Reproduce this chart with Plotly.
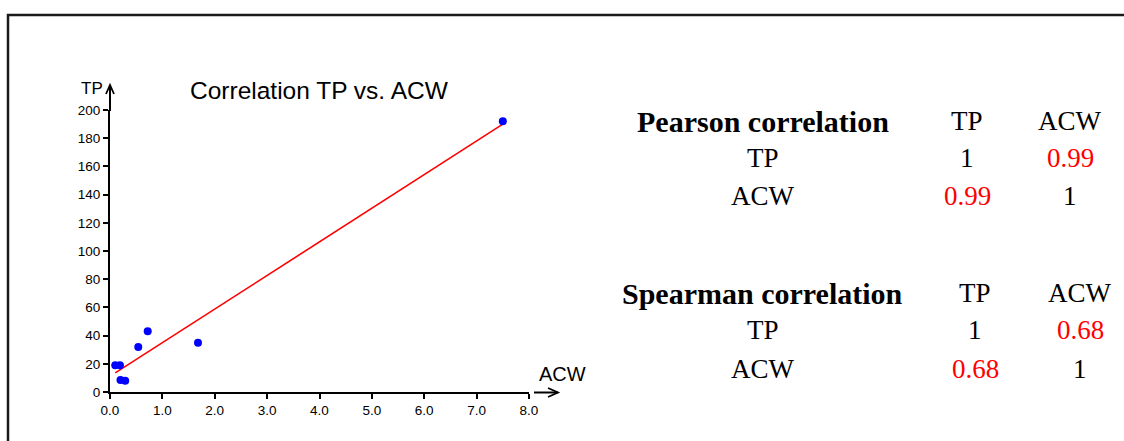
import numpy as np
import plotly.graph_objects as go

# ---- data ----
acw = [0.10, 0.19, 0.20, 0.29, 0.54, 0.72, 1.68, 7.50]
tp = [19, 19, 8.5, 8, 32, 43, 35, 192]
x_ticks = [0, 1, 2, 3, 4, 5, 6, 7, 8]
y_ticks = [0, 20, 40, 60, 80, 100, 120, 140, 160, 180, 200]

pearson_labels = ["TP", "ACW"]
pearson_matrix = [["1", "0.99"], ["0.99", "1"]]
spearman_labels = ["TP", "ACW"]
spearman_matrix = [["1", "0.68"], ["0.68", "1"]]

W, H = 1124, 441


def px(x):
    return x / W


def py(y):
    return 1 - y / H


# regression line
slope, intercept = np.polyfit(acw, tp, 1)
fit_x = [min(acw), max(acw)]
fit_y = [slope * v + intercept for v in fit_x]

fig = go.Figure()
fig.add_trace(go.Scatter(x=fit_x, y=fit_y, mode="lines",
                         line=dict(color="#ff0000", width=1.6),
                         hoverinfo="skip", showlegend=False, cliponaxis=False))
fig.add_trace(go.Scatter(x=acw, y=tp, mode="markers",
                         marker=dict(color="#0000ff", size=8, line=dict(width=0)),
                         showlegend=False, cliponaxis=False))

axis_font = dict(family="Liberation Sans, Arial, sans-serif", size=13.5, color="#000")

fig.update_layout(
    width=W, height=H,
    margin=dict(l=0, r=0, t=0, b=0, pad=0, autoexpand=False),
    paper_bgcolor="white", plot_bgcolor="white",
    xaxis=dict(domain=[px(110), px(529)], range=[0, 8], tickvals=x_ticks,
               tickformat=".1f", showgrid=False, zeroline=False,
               showline=True, linecolor="black", linewidth=2,
               ticks="outside", ticklen=5, tickwidth=2, tickcolor="black",
               tickfont=axis_font, anchor="y", automargin=False),
    yaxis=dict(domain=[py(392), py(110)], range=[0, 200], tickvals=y_ticks,
               showgrid=False, zeroline=False,
               showline=True, linecolor="black", linewidth=2,
               ticks="outside", ticklen=5, tickwidth=2, tickcolor="black",
               tickfont=axis_font, anchor="x", automargin=False),
    font=dict(family="Liberation Sans, Arial, sans-serif", color="#000"),
)

shapes = []
# frame
shapes.append(dict(type="rect", xref="paper", yref="paper",
                   x0=px(8), x1=1.02, y0=-0.02, y1=py(15),
                   line=dict(color="#1a1a1a", width=2.5), fillcolor="rgba(0,0,0,0)"))
# y axis arrow
shapes.append(dict(type="line", xref="paper", yref="paper",
                   x0=px(110), x1=px(110), y0=py(111), y1=py(85),
                   line=dict(color="black", width=2)))
shapes.append(dict(type="path", xref="paper", yref="paper",
                   path=f"M {px(106)} {py(94)} L {px(110)} {py(85)} L {px(114)} {py(94)}",
                   line=dict(color="black", width=1.8)))
# x axis arrow
shapes.append(dict(type="line", xref="paper", yref="paper",
                   x0=px(534), x1=px(558), y0=py(392.5), y1=py(392.5),
                   line=dict(color="black", width=2)))
shapes.append(dict(type="path", xref="paper", yref="paper",
                   path=f"M {px(548)} {py(388)} L {px(558)} {py(392.5)} L {px(548)} {py(397)}",
                   line=dict(color="black", width=1.8)))

ann = []
ann.append(dict(text="Correlation TP vs. ACW", x=px(319), y=py(90), xref="paper", yref="paper",
                showarrow=False, xanchor="center", yanchor="middle",
                font=dict(family="Liberation Sans, Arial, sans-serif", size=24.5, color="#000")))
ann.append(dict(text="TP", x=px(79), y=py(89), xref="paper", yref="paper",
                showarrow=False, xanchor="left", yanchor="middle",
                font=dict(family="Liberation Sans, Arial, sans-serif", size=17, color="#000")))
ann.append(dict(text="ACW", x=px(537), y=py(374), xref="paper", yref="paper",
                showarrow=False, xanchor="left", yanchor="middle",
                font=dict(family="Liberation Sans, Arial, sans-serif", size=20, color="#000")))

serif = "Liberation Serif, Times New Roman, serif"


def table(title, labels, matrix, title_x, col_x, row_y):
    ann.append(dict(text=f"<b>{title}</b>", x=px(title_x), y=py(row_y[0]),
                    xref="paper", yref="paper", showarrow=False,
                    xanchor="center", yanchor="middle",
                    font=dict(family=serif, size=30, color="#000")))
    for j, lab in enumerate(labels):
        ann.append(dict(text=lab, x=px(col_x[j + 1]), y=py(row_y[0]),
                        xref="paper", yref="paper", showarrow=False,
                        xanchor="center", yanchor="middle",
                        font=dict(family=serif, size=27, color="#000")))
    for i, lab in enumerate(labels):
        ann.append(dict(text=lab, x=px(col_x[0]), y=py(row_y[i + 1]),
                        xref="paper", yref="paper", showarrow=False,
                        xanchor="center", yanchor="middle",
                        font=dict(family=serif, size=27, color="#000")))
        for j in range(len(labels)):
            val = matrix[i][j]
            color = "#000" if i == j else "#ff0000"
            ann.append(dict(text=val, x=px(col_x[j + 1]), y=py(row_y[i + 1]),
                            xref="paper", yref="paper", showarrow=False,
                            xanchor="center", yanchor="middle",
                            font=dict(family=serif, size=27, color=color)))


table("Pearson correlation", pearson_labels, pearson_matrix, 763,
      [763, 967, 1070], [121, 158, 196])
table("Spearman correlation", spearman_labels, spearman_matrix, 762,
      [763, 975, 1080], [293, 330, 369])

fig.update_layout(shapes=shapes, annotations=ann)
fig.write_html("out.html")
